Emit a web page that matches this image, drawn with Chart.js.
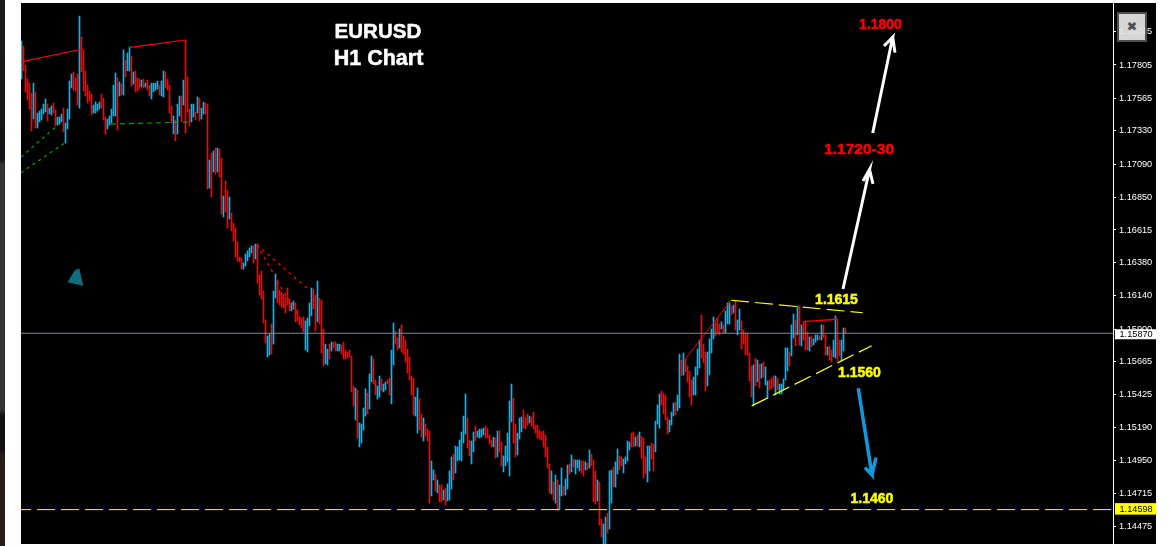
<!DOCTYPE html>
<html>
<head>
<meta charset="utf-8">
<title>EURUSD H1</title>
<script src="https://cdn.jsdelivr.net/npm/chart.js@4"></script>
<style>
  html, body { margin: 0; padding: 0; background: #fff; overflow: hidden; }
  #strip { position: absolute; left: 0; top: 0; width: 5px; height: 546px;
    background: linear-gradient(#1c1c1e 0, #14141a 160px, #333 164px, #333 410px, #111 416px, #111 450px, #2a1c18 455px, #2a1c18 546px); }
  #wrap { position: absolute; left: 21px; top: 3px; width: 1135px; height: 541px; background: #000; }
  #closeBtn { position: absolute; left: 1117px; top: 12px; width: 26px; height: 26px; border: 2px solid #555;
    background: #e6e6e6; opacity: .93; color: #555; font: bold 13px/26px "DejaVu Sans"; text-align: center; }
</style>
</head>
<body>
<div id="strip"></div>
<div id="wrap"><canvas id="chart" width="1135" height="541"></canvas></div>
<div id="closeBtn">✖</div>
<script>
// hourly bars
const barHighs = [
1.17978,1.17942,1.17805,1.17704,1.17674,1.17602,1.17674,1.17610,1.17458,1.17473,1.17487,1.17523,1.17559,1.17523,1.17494,1.17509,1.17530,1.17480,1.17430,1.17430,
1.17451,1.17494,1.17386,1.17487,1.17689,1.17740,1.17755,1.17711,1.17740,1.18158,1.18007,1.17913,1.17762,1.17660,1.17617,1.17595,1.17516,1.17538,1.17523,1.17538,
1.17595,1.17566,1.17430,1.17415,1.17437,1.17487,1.17660,1.17747,1.17711,1.17682,1.17667,1.17913,1.17841,1.17891,1.17935,1.17870,1.17755,1.17762,1.17711,1.17704,
1.17696,1.17704,1.17674,1.17696,1.17660,1.17674,1.17674,1.17674,1.17689,1.17660,1.17689,1.17762,1.17755,1.17704,1.17660,1.17509,1.17437,1.17408,1.17523,1.17581,
1.17581,1.17696,1.17985,1.17718,1.17487,1.17523,1.17523,1.17466,1.17574,1.17566,1.17494,1.17538,1.17530,1.17523,1.17120,1.17170,1.17185,1.17206,1.17206,1.17199,
1.17134,1.16860,1.16968,1.16903,1.16853,1.16737,1.16665,1.16629,1.16529,1.16420,1.16413,1.16377,1.16442,1.16464,1.16485,1.16500,1.16500,1.16514,1.16514,1.16290,
1.16319,1.16175,1.15966,1.15850,1.15865,1.15937,1.16175,1.16297,1.16254,1.16182,1.16168,1.16153,1.16132,1.16196,1.16117,1.16088,1.16103,1.16088,1.16038,1.15988,
1.15980,1.15988,1.15959,1.15980,1.16088,1.16196,1.16189,1.16146,1.16247,1.16124,1.16110,1.15901,1.15792,1.15756,1.15792,1.15807,1.15807,1.15807,1.15792,1.15792,
1.15785,1.15807,1.15749,1.15735,1.15749,1.15706,1.15490,1.15475,1.15461,1.15223,1.15215,1.15331,1.15468,1.15439,1.15576,1.15706,1.15684,1.15533,1.15490,1.15562,
1.15540,1.15504,1.15519,1.15533,1.15547,1.15749,1.15944,1.15887,1.15836,1.15901,1.15930,1.15850,1.15821,1.15756,1.15699,1.15562,1.15547,1.15410,1.15475,1.15396,
1.15288,1.15259,1.15215,1.15179,1.15165,1.14949,1.14884,1.14855,1.14812,1.14776,1.14776,1.14739,1.14754,1.14783,1.14877,1.14978,1.14999,1.15057,1.15050,1.15100,
1.15158,1.15273,1.15432,1.15259,1.15100,1.15093,1.15158,1.15201,1.15165,1.15179,1.15179,1.15186,1.15201,1.15186,1.15136,1.15100,1.15121,1.15114,1.15165,1.15165,
1.15086,1.14985,1.15057,1.15150,1.15382,1.15504,1.15403,1.15215,1.15150,1.15259,1.15266,1.15317,1.15259,1.15288,1.15273,1.15266,1.15302,1.15208,1.15208,1.15172,
1.15158,1.15165,1.15136,1.15050,1.14927,1.14877,1.14797,1.14848,1.14812,1.14776,1.14898,1.14768,1.14819,1.14920,1.14927,1.14992,1.14963,1.14956,1.14956,1.14956,
1.14949,1.14949,1.14942,1.14934,1.15028,1.14999,1.14956,1.14877,1.14812,1.14797,1.14530,1.14494,1.14544,1.14573,1.14877,1.14884,1.14905,1.14942,1.15035,1.14985,
1.14978,1.14963,1.14978,1.15093,1.15086,1.15150,1.15158,1.15121,1.15136,1.15158,1.15129,1.15114,1.14978,1.15057,1.15057,1.15078,1.15071,1.15237,1.15353,1.15432,
1.15454,1.15439,1.15425,1.15266,1.15244,1.15302,1.15367,1.15374,1.15425,1.15720,1.15677,1.15728,1.15684,1.15634,1.15598,1.15533,1.15554,1.15627,1.15756,1.15821,
1.16002,1.15792,1.15735,1.15735,1.15829,1.15901,1.15988,1.15952,1.15980,1.15937,1.15952,1.15930,1.16031,1.16088,1.16096,1.16067,1.16074,1.16103,1.15966,1.16045,
1.15959,1.15894,1.15872,1.15872,1.15728,1.15634,1.15641,1.15691,1.15677,1.15648,1.15648,1.15663,1.15627,1.15526,1.15533,1.15547,1.15562,1.15562,1.15547,1.15504,
1.15504,1.15540,1.15764,1.15764,1.15735,1.15930,1.16009,1.15966,1.16067,1.16067,1.15930,1.15952,1.15959,1.15879,1.15843,1.15850,1.15829,1.15858,1.15858,1.15850,
1.15930,1.15930,1.15858,1.15771,1.15778,1.15749,1.15821,1.15995,1.15973,1.15821,1.15821,1.15908,1.15908];
const barLows = [
1.17704,1.17762,1.17610,1.17552,1.17487,1.17329,1.17415,1.17350,1.17350,1.17394,1.17408,1.17451,1.17466,1.17401,1.17451,1.17444,1.17458,1.17365,1.17372,1.17379,
1.17394,1.17322,1.17242,1.17343,1.17415,1.17639,1.17624,1.17617,1.17516,1.17494,1.17755,1.17617,1.17581,1.17530,1.17545,1.17444,1.17458,1.17458,1.17473,1.17487,
1.17494,1.17408,1.17307,1.17343,1.17372,1.17386,1.17437,1.17437,1.17336,1.17581,1.17588,1.17588,1.17718,1.17762,1.17762,1.17653,1.17667,1.17610,1.17617,1.17631,
1.17646,1.17639,1.17646,1.17624,1.17581,1.17559,1.17610,1.17624,1.17631,1.17588,1.17581,1.17574,1.17639,1.17624,1.17458,1.17386,1.17307,1.17257,1.17307,1.17437,
1.17394,1.17516,1.17314,1.17466,1.17365,1.17394,1.17430,1.17408,1.17458,1.17401,1.17415,1.17451,1.17451,1.16910,1.16917,1.16853,1.17033,1.17018,1.17033,1.16997,
1.16730,1.16709,1.16745,1.16629,1.16694,1.16608,1.16536,1.16420,1.16391,1.16384,1.16333,1.16333,1.16355,1.16391,1.16420,1.16449,1.16377,1.16406,1.16232,1.16146,
1.16117,1.15944,1.15800,1.15699,1.15713,1.15720,1.15792,1.16124,1.16088,1.16074,1.16059,1.16052,1.16016,1.16074,1.16031,1.16031,1.16045,1.15952,1.15959,1.15930,
1.15908,1.15879,1.15749,1.15735,1.15922,1.15995,1.16045,1.15887,1.15952,1.15937,1.15728,1.15634,1.15648,1.15641,1.15684,1.15742,1.15764,1.15742,1.15742,1.15742,
1.15720,1.15684,1.15684,1.15691,1.15699,1.15447,1.15346,1.15244,1.15114,1.15050,1.15078,1.15172,1.15273,1.15288,1.15324,1.15519,1.15504,1.15425,1.15396,1.15410,
1.15454,1.15447,1.15461,1.15504,1.15425,1.15360,1.15641,1.15792,1.15749,1.15764,1.15735,1.15720,1.15663,1.15583,1.15533,1.15425,1.15281,1.15273,1.15150,1.15172,
1.15121,1.15093,1.15129,1.15093,1.14645,1.14696,1.14812,1.14732,1.14718,1.14653,1.14653,1.14667,1.14631,1.14660,1.14667,1.14746,1.14812,1.14862,1.14949,1.14956,
1.14949,1.15078,1.15143,1.15042,1.14985,1.14927,1.15014,1.15093,1.15121,1.15114,1.15121,1.15136,1.15114,1.15114,1.15071,1.15050,1.15050,1.14970,1.14978,1.15014,
1.14913,1.14870,1.14913,1.14942,1.14840,1.15230,1.15078,1.14978,1.14992,1.15107,1.15158,1.15186,1.15179,1.15208,1.15223,1.15201,1.15179,1.15150,1.15114,1.15107,
1.15100,1.15050,1.14978,1.14898,1.14718,1.14711,1.14667,1.14645,1.14595,1.14595,1.14696,1.14703,1.14703,1.14746,1.14855,1.14870,1.14905,1.14855,1.14898,1.14877,
1.14862,1.14840,1.14884,1.14884,1.14898,1.14913,1.14653,1.14638,1.14660,1.14487,1.14400,1.14350,1.14350,1.14429,1.14458,1.14645,1.14761,1.14761,1.14855,1.14884,
1.14913,1.14862,1.14927,1.14949,1.15028,1.15050,1.15050,1.15057,1.15057,1.15050,1.14970,1.14826,1.14855,1.14797,1.14877,1.14963,1.14877,1.15014,1.15215,1.15186,
1.15353,1.15288,1.15244,1.15143,1.15158,1.15208,1.15273,1.15281,1.15310,1.15331,1.15562,1.15569,1.15591,1.15519,1.15410,1.15353,1.15425,1.15425,1.15569,1.15619,
1.15691,1.15656,1.15454,1.15490,1.15569,1.15728,1.15829,1.15850,1.15865,1.15858,1.15901,1.15872,1.15872,1.15937,1.15937,1.16002,1.16016,1.15894,1.15858,1.15894,
1.15756,1.15792,1.15713,1.15713,1.15526,1.15410,1.15346,1.15490,1.15519,1.15475,1.15547,1.15554,1.15497,1.15403,1.15461,1.15468,1.15483,1.15425,1.15461,1.15432,
1.15432,1.15461,1.15533,1.15598,1.15634,1.15706,1.15836,1.15778,1.15858,1.15785,1.15778,1.15821,1.15749,1.15749,1.15742,1.15771,1.15785,1.15807,1.15821,1.15821,
1.15821,1.15836,1.15713,1.15713,1.15677,1.15663,1.15699,1.15691,1.15670,1.15706,1.15670,1.15742,1.15865];
// 1 = rising bar, 0 = falling bar
const barUp = [
1,0,0,0,0,0,1,0,1,1, 1,1,1,0,1,1,0,0,1,1, 1,0,1,1,1,1,0,0,0,1, 0,0,0,0,0,0,1,1,1,1, 0,0,0,1,1,1,1,1,0,1,
0,1,0,1,1,0,1,0,0,0, 1,0,1,0,0,1,1,1,1,0, 1,1,0,0,0,0,1,0,1,1, 0,1,0,0,0,1,1,0,1,0, 1,1,0,0,1,0,1,0,1,0,
0,1,0,0,1,0,0,0,0,0, 0,1,1,1,1,1,0,1,0,0, 0,0,0,1,1,0,1,1,0,0, 0,0,0,0,0,1,1,0,0,0, 0,0,1,1,1,1,0,0,1,0,
0,0,1,1,0,1,0,0,1,1, 0,0,0,0,0,0,0,1,0,1, 1,1,1,0,1,1,0,0,1,1, 0,1,1,0,0,1,1,0,0,1, 0,0,0,0,0,0,0,1,1,0,
0,1,0,0,0,1,1,0,1,0, 0,1,0,1,1,1,0,1,1,1, 1,1,1,0,0,1,1,0,1,1, 1,1,0,0,0,0,1,0,1,0, 0,1,1,1,1,1,0,0,1,1,
1,0,0,0,1,0,0,0,0,0, 0,0,0,0,0,1,0,1,0,1, 1,0,1,1,0,1,0,1,1,1, 0,0,1,0,1,0,0,0,1,0, 0,1,1,0,1,1,0,1,1,0,
0,1,1,1,1,0,0,1,0,1, 0,0,0,1,1,0,0,1,1,1, 0,0,0,0,1,1,1,0,1,1, 0,1,0,0,0,0,1,1,1,1, 0,0,0,1,1,1,1,0,0,0,
1,0,1,1,1,0,1,0,1,1, 0,0,0,0,0,0,1,0,1,0, 1,0,1,1,0,0,0,1,0,1, 1,1,1,1,0,1,1,0,1,0, 1,0,0,0,1,0,1,1,1,0,
1,0,0,1,0,0,1,1,0,0, 1,1,0];

const axisTicks = [1.18045,1.17805,1.17565,1.17330,1.17090,1.16850,1.16615,1.16380,1.16140,1.15900,1.15665,1.15425,1.15190,1.14950,1.14715,1.14475];
const askPrice = 1.15870;
const supportPrice = 1.14598;

// drawn lines: [bar number, price]
const redLineA = [[-0.25,1.17827],[30.75,1.17920]];
const redLineB = [[53.75,1.17930],[81.75,1.17985]];
const redLineC = [[331.75,1.15682],[354.25,1.16096]];
const redLineD = [[390.9,1.15954],[407.6,1.15971]];
const greenDashA = [[-0.25,1.17141],[18.75,1.17379]];
const greenDashB = [[-0.25,1.17028],[21.75,1.17244]];
const greenDashC = [[44.75,1.17379],[85.25,1.17394]];
const redDashA = [[117.75,1.16507],[143.25,1.16189]];
const redDashB = [[117.75,1.16507],[126.75,1.16283]];
const redDashC = [[127.75,1.16247],[139.25,1.15980]];
const wedgeUpper = [[354.75,1.16108],[420.6,1.16018]];
const wedgeLower = [[365.1,1.15346],[425.1,1.15780]];
const arrowWhiteLow = [[410.75,1.16189],[424,1.17051],[420.75,1.16968],[424,1.17051],[425.75,1.16947]];
const arrowWhiteHigh = [[425.6,1.17314],[435.6,1.18005],[431.25,1.17942],[435.6,1.18005],[436.75,1.17894]];
const arrowBlue = [[418.4,1.15473],[425.25,1.14848],[421.75,1.14901],[425.25,1.14848],[427.25,1.14973]];
const bellShape = [[23.25,1.16238],[26.75,1.16321],[28.75,1.16334],[30.6,1.16213]];

// text on the chart
const noteTexts = ['EURUSD','H1 Chart','1.1800','1.1720-30','1.1615','1.1560','1.1460'];
const noteBars = [178.2,178.5,429.5,418.8,407.5,419,425.2];
const notePrices = [1.18043,1.17848,1.18093,1.17192,1.16111,1.15582,1.14673];
const noteColors = ['#fff','#fff','#f00','#f00','#ff0','#ff0','#ff0'];
const noteFonts = ['bold 20.5px "Liberation Sans"','bold 21.5px "Liberation Sans"','bold 14px "Liberation Sans"','bold 15.5px "Liberation Sans"','bold 14px "Liberation Sans"','bold 14px "Liberation Sans"','bold 14px "Liberation Sans"'];

const RED = '#e01010';
const BLUE = '#1eaee0';
const tickFont = '9.2px "Liberation Sans"';

function pts(list) { return list.map(p => ({x: p[0], y: p[1]})); }

function line(list, color, width, dash, dashOffset) {
    return {
        type: 'line', data: pts(list), borderColor: color, backgroundColor: color, borderWidth: width,
        borderDash: dash || [], borderDashOffset: dashOffset || 0, pointRadius: 0, tension: 0, fill: false, order: 0
    };
}

// price tags and chart text sit on top of everything else
const notesPlugin = {
    id: 'notes',
    afterDraw(chart) {
        const c = chart.ctx, xs = chart.scales.x, ys = chart.scales.y;
        c.save();
        c.textBaseline = 'middle';
        c.textAlign = 'center';
        c.lineWidth = 0.5;
        noteTexts.forEach((t, i) => {
            const px = xs.getPixelForValue(noteBars[i]), py = ys.getPixelForValue(notePrices[i]);
            c.font = noteFonts[i];
            c.fillStyle = noteColors[i];
            c.strokeStyle = noteColors[i];
            c.fillText(t, px, py);
            c.strokeText(t, px, py);
        });
        c.textAlign = 'left';
        c.font = tickFont;
        c.fillStyle = '#fff';
        let y = ys.getPixelForValue(askPrice);
        c.fillRect(1094, y - 4, 41, 10);
        c.fillStyle = '#000';
        c.fillText(askPrice.toFixed(5), 1098.5, y + 1);
        y = ys.getPixelForValue(supportPrice);
        c.fillStyle = '#ff0';
        c.fillRect(1094, y - 6.5, 41, 11.5);
        c.fillStyle = '#000';
        c.fillText(supportPrice.toFixed(5), 1098.5, y);
        c.restore();
    }
};

const ctx = document.getElementById('chart').getContext('2d');
new Chart(ctx, {
    type: 'bar',
    data: {
        datasets: [
            {
                type: 'bar',
                data: barLows.map((lo, i) => ({x: i, y: [lo, barHighs[i]]})),
                backgroundColor: barUp.map(u => u ? BLUE : RED),
                borderWidth: 0,
                barThickness: 1,
                order: 2
            },
            line([[-0.25, askPrice], [545.75, askPrice]], '#7f8a96', 1),
            line([[-0.25, supportPrice], [545.75, supportPrice]], '#ffff00', 1, [18, 6], 8),
            line(redLineA, '#f00', 1.2),
            line(redLineB, '#f00', 1.2),
            line(redLineC, '#f00', 1),
            line(redLineD, '#f00', 1.4),
            line(greenDashA, '#0a9a0a', 1.3, [3, 4]),
            line(greenDashB, '#0a9a0a', 1.3, [3, 4]),
            line(greenDashC, '#0a9a0a', 1.2, [5, 4]),
            line(redDashA, '#f00', 1.3, [3, 4]),
            line(redDashB, '#f00', 1.3, [3, 4]),
            line(redDashC, '#f00', 1.3, [3, 4]),
            line(wedgeUpper, '#ffff00', 1.2, [18, 6]),
            line(wedgeLower, '#ffff00', 1.2, [18, 6]),
            line(arrowWhiteLow, '#fff', 3),
            line(arrowWhiteHigh, '#fff', 3),
            line(arrowBlue, '#0e9ae0', 3.5),
            Object.assign(line(bellShape, '#0f6f7c', 1), {fill: 'shape'})
        ]
    },
    options: {
        responsive: false,
        animation: false,
        devicePixelRatio: 1,
        layout: {padding: 0},
        plugins: {legend: {display: false}, tooltip: {enabled: false}, title: {display: false}},
        scales: {
            x: {type: 'linear', display: false, min: -0.25, max: 545.75, offset: false, grid: {display: false}},
            y: {
                position: 'right',
                min: 1.14350,
                max: 1.18252,
                afterFit(scale) { scale.width = 43; scale.paddingTop = 0; scale.paddingBottom = 0; },
                afterBuildTicks(scale) { scale.ticks = axisTicks.map(v => ({value: v})); },
                border: {color: '#fff', width: 1},
                grid: {drawOnChartArea: false, drawTicks: true, tickLength: 3, color: '#fff'},
                ticks: {
                    color: '#fff',
                    padding: 3,
                    autoSkip: false,
                    maxRotation: 0,
                    font: {family: 'Liberation Sans', size: 9.2},
                    callback: v => v.toFixed(5)
                }
            }
        }
    },
    plugins: [notesPlugin]
});
</script>
</body>
</html>
